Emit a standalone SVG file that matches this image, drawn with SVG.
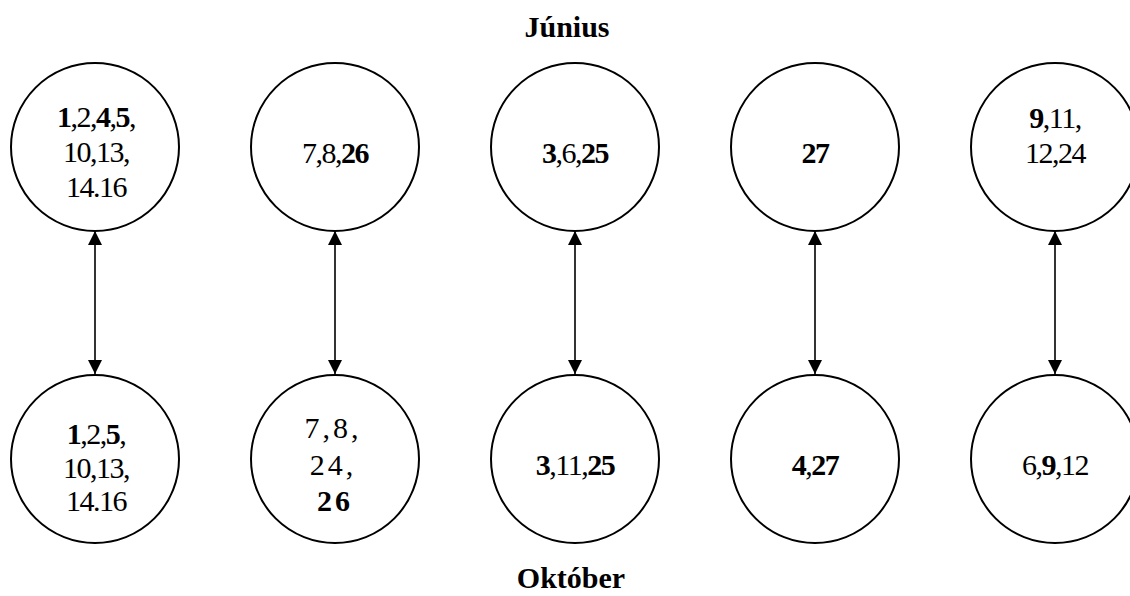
<svg xmlns="http://www.w3.org/2000/svg" width="1130" height="596" viewBox="0 0 1130 596">
<style>
.c{fill:#fff;stroke:#000;stroke-width:2}
.t{font-family:"Liberation Serif","Times New Roman",serif;font-size:30px;fill:#000;text-anchor:middle;letter-spacing:-1.5px}
.b{font-weight:bold}
.h{font-family:"Liberation Serif","Times New Roman",serif;font-size:30px;font-weight:bold;fill:#000;text-anchor:middle}
.a{stroke:#000;stroke-width:1.6;fill:none;marker-start:url(#ah);marker-end:url(#ah)}
.w{letter-spacing:3px}
</style>
<defs>
<marker id="ah" viewBox="0 0 14 14" refX="14" refY="7" markerWidth="15" markerHeight="14" markerUnits="userSpaceOnUse" orient="auto-start-reverse">
<path d="M0,0 L14,7 L0,14 Z" fill="#000"/>
</marker>
</defs>
<text class="h" x="567" y="37">Június</text>
<text class="h" x="571" y="588">Október</text>
<g id="connectors">
<line class="a" x1="95" y1="231" x2="95" y2="374"/>
<line class="a" x1="335" y1="231" x2="335" y2="374"/>
<line class="a" x1="575" y1="231" x2="575" y2="374"/>
<line class="a" x1="815" y1="231" x2="815" y2="374"/>
<line class="a" x1="1055" y1="231" x2="1055" y2="374"/>
</g>
<g id="j1"><circle class="c" cx="95" cy="147" r="84"/>
<text class="t" x="96" y="127"><tspan class="b">1</tspan>,2,<tspan class="b">4</tspan>,<tspan class="b">5</tspan>,</text>
<text class="t" x="96" y="162">10,13,</text>
<text class="t" x="96" y="197">14.16</text></g>
<g id="j2"><circle class="c" cx="335" cy="147" r="84"/>
<text class="t" x="335" y="163">7,8,<tspan class="b">26</tspan></text></g>
<g id="j3"><circle class="c" cx="575" cy="147" r="84"/>
<text class="t" x="575" y="163"><tspan class="b">3</tspan>,6,<tspan class="b">25</tspan></text></g>
<g id="j4"><circle class="c" cx="815" cy="147" r="84"/>
<text class="t b" x="815" y="163">27</text></g>
<g id="j5"><circle class="c" cx="1055" cy="147" r="84"/>
<text class="t" x="1055" y="128"><tspan class="b">9</tspan>,11,</text>
<text class="t" x="1055" y="163">12,24</text></g>
<g id="o1"><circle class="c" cx="95" cy="459" r="84"/>
<text class="t" x="96" y="444"><tspan class="b">1</tspan>,2,<tspan class="b">5</tspan>,</text>
<text class="t" x="96" y="478">10,13,</text>
<text class="t" x="96" y="511">14.16</text></g>
<g id="o2"><circle class="c" cx="335" cy="459" r="84"/>
<text class="t w" x="333" y="438">7,8,</text>
<text class="t w" x="333" y="475">24,</text>
<text class="t b w" x="335" y="511">26</text></g>
<g id="o3"><circle class="c" cx="575" cy="459" r="84"/>
<text class="t" x="575" y="475"><tspan class="b">3</tspan>,11,<tspan class="b">25</tspan></text></g>
<g id="o4"><circle class="c" cx="815" cy="459" r="84"/>
<text class="t" x="815" y="475"><tspan class="b">4</tspan>,<tspan class="b">27</tspan></text></g>
<g id="o5"><circle class="c" cx="1055" cy="459" r="84"/>
<text class="t" x="1055" y="475">6,<tspan class="b">9</tspan>,12</text></g>
</svg>
